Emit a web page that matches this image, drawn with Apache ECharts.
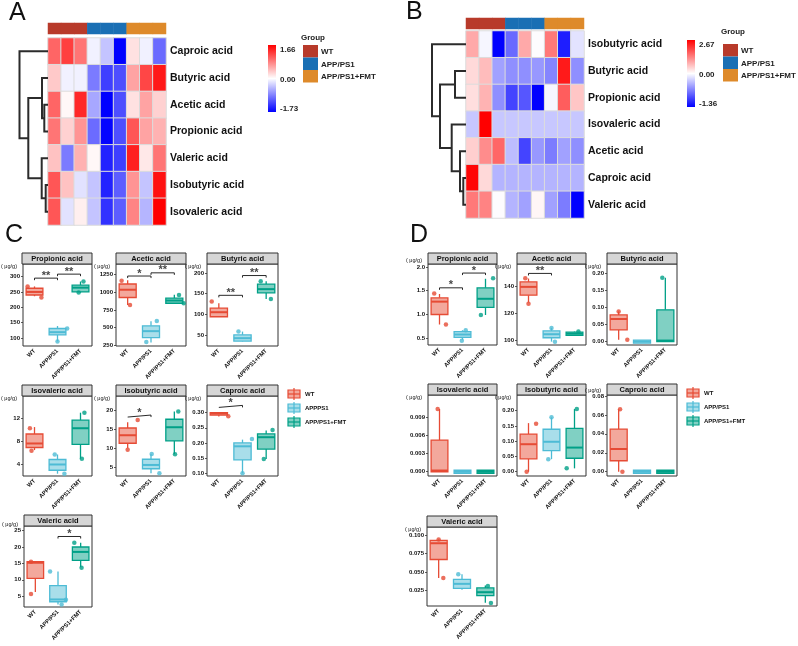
<!DOCTYPE html>
<html>
<head>
<meta charset="utf-8">
<script src="https://cdn.jsdelivr.net/npm/echarts@6/dist/echarts.min.js"></script>
<style>
html, body { margin: 0; padding: 0; background: #fff; }
#chart { width: 798px; height: 646px; }
</style>
</head>
<body>
<div id="chart"></div>
<script>
var FONT = 'Arial, "Liberation Sans", Helvetica, sans-serif';

// ---- shared ----
var samples = ['s1', 's2', 's3', 's4', 's5', 's6', 's7', 's8', 's9'];
var sampleGroup = [0, 0, 0, 1, 1, 1, 2, 2, 2];
var groupNames = ['WT', 'APP/PS1', 'APP/PS1+FMT'];
var annColors = ['#b83a2a', '#1a6fb4', '#de8a2a'];
var boxColors = ['#e64b35', '#4dbbd5', '#00a087'];
var boxFills = ['#f3a89c', '#a9deea', '#80d0c3'];

// ---- heatmap A ----
var rowsA = ['Caproic acid', 'Butyric acid', 'Acetic acid', 'Propionic acid', 'Valeric acid', 'Isobutyric acid', 'Isovaleric acid'];
var zA = [
    [1.0, 1.25, 0.9, -0.1, -0.4, -1.73, 0.2, -0.1, -1.0],
    [0.35, -0.1, -0.1, -0.9, -1.3, -1.2, 0.6, 1.2, 1.5],
    [1.0, 0.05, 1.4, -0.6, -1.73, -1.2, 0.2, 0.6, 0.3],
    [0.9, 0.3, 0.7, -1.0, -1.7, -1.2, 1.1, 0.6, 0.5],
    [0.4, -0.9, 0.5, 0.05, -1.5, -1.3, 1.45, 0.15, 0.9],
    [1.1, 0.4, -0.2, -0.4, -1.5, -1.1, 0.7, -0.4, 1.55],
    [1.1, -0.2, 0.1, -0.4, -1.4, -1.1, 0.8, -0.5, 1.66]
];
var mergesA = [[-6, -7], [-3, -4], [-2, 2], [-5, 1], [3, 4], [-1, 5]];
var heightsA = [2.3, 3.7, 6, 6.3, 19.7, 28.5];

// ---- heatmap B ----
var rowsB = ['Isobutyric acid', 'Butyric acid', 'Propionic acid', 'Isovaleric acid', 'Acetic acid', 'Caproic acid', 'Valeric acid'];
var zB = [
    [0.9, -0.05, -1.36, -0.8, 0.9, 0.0, 1.4, -1.2, -0.15],
    [0.4, 0.7, -0.5, -0.6, -0.6, -0.55, -0.65, 2.4, -0.6],
    [0.35, 0.8, -0.6, -1.0, -0.9, -1.36, -0.05, 1.7, 0.6],
    [-0.3, 2.67, -0.3, -0.3, -0.3, -0.3, -0.3, -0.3, -0.3],
    [0.5, 1.2, 1.6, -0.35, -1.0, -0.55, -0.7, -0.5, -0.6],
    [2.6, 0.4, -0.4, -0.4, -0.4, -0.4, -0.4, -0.4, -0.4],
    [1.4, 1.3, 0.0, -0.4, -0.5, 0.1, -0.5, -0.7, -1.36]
];
var mergesB = [[-6, -7], [-5, 1], [-2, -3], [-4, 2], [3, 4], [-1, 5]];
var heightsB = [2.7, 6, 11, 14.3, 26, 34];

// ---- box plots ----
var facetNames = ['Propionic acid', 'Acetic acid', 'Butyric acid', 'Isovaleric acid', 'Isobutyric acid', 'Caproic acid', 'Valeric acid'];

// [min, Q1, median, Q3, max] per group
var boxesC = [
    [[236, 240, 250, 262, 268], [89, 110, 119, 131, 139], [248, 250, 264, 272, 284]],
    [[819, 926, 1036, 1117, 1170], [288, 359, 450, 526, 590], [836, 845, 883, 917, 964]],
    [[94, 94, 105, 115, 127], [34, 35, 42, 50, 58], [137, 152, 161, 173, 180]],
    [[6.5, 6.95, 7.65, 9.3, 10.5], [2.4, 3.0, 4.0, 4.87, 5.74], [5.0, 7.5, 10.3, 11.7, 13.0]],
    [[10, 11.3, 13.4, 15.3, 16.8], [3.4, 4.6, 5.6, 7.1, 8.5], [8.4, 11.9, 15.5, 17.6, 19.6]],
    [[0.287, 0.292, 0.297, 0.300, 0.301], [0.10, 0.144, 0.189, 0.20, 0.211], [0.147, 0.180, 0.219, 0.230, 0.241]],
    [[6.3, 10.4, 15.2, 15.5, 15.5], [2.5, 3.3, 4.0, 8.2, 12.5], [13.8, 15.9, 18.5, 20, 21.3]]
];
// [group, jitter, value]
var pointsC = [
    [[0, -0.3, 268], [0, 0.3, 232], [1, 0, 89], [1, 0.42, 131], [2, 0.13, 284], [2, -0.08, 248]],
    [[0, -0.26, 1164], [0, 0.1, 819], [1, -0.2, 295], [1, 0.25, 593], [2, 0.2, 960], [2, 0.4, 845]],
    [[0, -0.3, 131], [1, -0.17, 58], [2, -0.23, 180], [2, 0.2, 137]],
    [[0, -0.2, 10.3], [0, -0.13, 6.4], [1, -0.12, 5.74], [1, 0.3, 2.4], [2, 0.17, 13.0], [2, 0.06, 5.0]],
    [[0, 0, 9.6], [0, 0.43, 17.4], [1, 0.03, 8.5], [1, 0.36, 3.4], [2, 0.17, 19.6], [2, 0.03, 8.4]],
    [[0, 0.4, 0.288], [1, 0, 0.10], [1, 0.4, 0.213], [2, 0.27, 0.243], [2, -0.1, 0.147]],
    [[0, -0.19, 15.5], [0, -0.19, 5.7], [1, -0.35, 12.5], [1, 0.16, 2.5], [1, 0.35, 3.9], [2, -0.28, 21.3], [2, 0.04, 13.7]]
];
// [from, to, y, label]
var sigC = [
    [[0, 1, 295, '**'], [1, 2, 308, '**']],
    [[0, 1, 1230, '*'], [1, 2, 1275, '**']],
    [[0, 1, 146, '**'], [1, 2, 194, '**']],
    [],
    [[0, 1, 18.7, '*']],
    [[0, 1, 0.324, '*']],
    [[1, 2, 23.2, '*']]
];
var yRangeC = [[74, 341], [240, 1400], [23, 222], [2, 15.9], [2.7, 23.7], [0.091, 0.355], [1.7, 26.4]];
var yTicksC = [[100, 150, 200, 250, 300], [250, 500, 750, 1000, 1250], [50, 100, 150, 200], [4, 8, 12],
    [5, 10, 15, 20], [0.10, 0.15, 0.20, 0.25, 0.30], [5, 10, 15, 20, 25]];
var decC = [0, 0, 0, 0, 0, 2, 0];

var boxesD = [
    [[0.79, 1.0, 1.27, 1.35, 1.43], [0.47, 0.52, 0.58, 0.64, 0.67], [0.99, 1.15, 1.33, 1.56, 1.75]],
    [[127.9, 133.3, 139.5, 143.2, 145.7], [98.8, 101.7, 104.3, 106.8, 109], [103, 103.5, 104.7, 105.8, 106.3]],
    [[0.005, 0.034, 0.066, 0.078, 0.088], [0, 0, 0, 0, 0], [0, 0, 0.003, 0.093, 0.187]],
    [[0, 0, 0.0002, 0.0052, 0.0103], [0, 0, 0, 0, 0], [0, 0, 0, 0, 0]],
    [[0, 0.042, 0.09, 0.123, 0.159], [0.041, 0.069, 0.098, 0.139, 0.178], [0.011, 0.044, 0.079, 0.142, 0.205]],
    [[0, 0.0116, 0.024, 0.045, 0.066], [0, 0, 0, 0, 0], [0, 0, 0, 0, 0]],
    [[0.042, 0.067, 0.089, 0.093, 0.094], [0.026, 0.028, 0.034, 0.040, 0.047], [0.0085, 0.018, 0.0227, 0.0285, 0.0318]]
];
var pointsD = [
    [[0, -0.23, 1.44], [0, 0.28, 0.79], [1, 0.14, 0.67], [1, -0.03, 0.45], [2, 0.33, 1.76], [2, -0.2, 0.99]],
    [[0, -0.14, 146], [0, 0, 127], [1, 0, 109], [1, 0.15, 98.8], [2, 0.17, 106.3]],
    [[0, 0, 0.088], [0, 0.37, 0.005], [2, -0.13, 0.187]],
    [[0, -0.08, 0.0103]],
    [[0, -0.08, 0], [0, 0.33, 0.157], [1, 0, 0.178], [1, -0.14, 0.041], [2, 0.1, 0.205], [2, -0.34, 0.011]],
    [[0, 0.06, 0.066], [0, 0.16, 0]],
    [[0, 0, 0.094], [0, 0.2, 0.042], [1, -0.16, 0.047], [2, 0.11, 0.031], [2, 0.24, 0.008]]
];
var sigD = [
    [[0, 1, 1.56, '*'], [1, 2, 1.87, '*']],
    [[0, 1, 149.5, '**']],
    [], [], [], [], []
];
var yRangeD = [[0.36, 2.06], [96.3, 156.5], [-0.01, 0.227], [-0.0007, 0.0126], [-0.014, 0.251], [-0.0045, 0.081], [0.004, 0.111]];
var yTicksD = [[0.5, 1.0, 1.5, 2.0], [100, 120, 140], [0, 0.05, 0.10, 0.15, 0.20], [0, 0.003, 0.006, 0.009],
    [0, 0.05, 0.10, 0.15, 0.20], [0, 0.02, 0.04, 0.06, 0.08], [0.025, 0.050, 0.075, 0.100]];
var decD = [1, 0, 2, 3, 2, 2, 3];

// facet frames: [left, stripTop, width, plotHeight]
var frameC = [[22, 253, 70, 82], [116, 253, 70, 82], [207, 253, 71, 82],
    [22, 385, 70, 80], [116, 385, 70, 80], [207, 385, 71, 80], [24, 515, 68, 81]];
var frameD = [[428, 253, 69, 81], [517, 253, 69, 81], [607, 253, 70, 81],
    [428, 384, 69, 81], [517, 384, 69, 81], [607, 384, 70, 81], [427, 516, 70, 79]];

var chart = echarts.init(document.getElementById('chart'));
var option = {
    animation: false,
    backgroundColor: '#fff',
    textStyle: { fontFamily: FONT },
    grid: [], xAxis: [], yAxis: [], series: [], visualMap: [], graphic: []
};
var G = option.graphic;

function ramp(lo, hi) {
    var out = [];
    for (var i = 0; i <= 60; i++) {
        var v = lo + (hi - lo) * i / 60, t, c;
        if (v < 0) {
            t = v / lo;
            c = [255 * (1 - t), 255 * (1 - t), 255];
        } else {
            t = v / hi;
            c = [255, 255 * (1 - t), 255 * (1 - t)];
        }
        out.push('rgb(' + c.map(Math.round).join(',') + ')');
    }
    return out;
}

function addGrid(g) { option.grid.push(g); return option.grid.length - 1; }
function addX(a) { option.xAxis.push(a); return option.xAxis.length - 1; }
function addY(a) { option.yAxis.push(a); return option.yAxis.length - 1; }
function addS(s) { option.series.push(s); return option.series.length - 1; }

function dendroLines(merges, heights) {
    var pos = [], lines = [];
    function node(id) { return id < 0 ? { x: 0, y: -id - 1 } : pos[id - 1]; }
    merges.forEach(function (m, i) {
        var a = node(m[0]), b = node(m[1]), h = heights[i];
        lines.push({ coords: [[a.x, a.y], [h, a.y], [h, b.y], [b.x, b.y]] });
        pos.push({ x: h, y: (a.y + b.y) / 2 });
    });
    return lines;
}

function heatPanel(rows, z, merges, heights, L) {
    // main heatmap
    var g = addGrid({ left: L.x, top: L.y, width: L.w, height: L.h });
    var xi = addX({ gridIndex: g, type: 'category', data: samples, show: false });
    var yi = addY({
        gridIndex: g, type: 'category', data: rows, inverse: true, position: 'right',
        axisLine: { show: false }, axisTick: { show: false },
        axisLabel: { margin: 4, fontSize: 10.5, fontWeight: 'bold', color: '#111', fontFamily: FONT }
    });
    var cells = [], lo = Infinity, hi = -Infinity;
    z.forEach(function (row, r) {
        row.forEach(function (v, c) {
            cells.push([c, r, v]);
            lo = Math.min(lo, v);
            hi = Math.max(hi, v);
        });
    });
    var si = addS({
        type: 'heatmap', xAxisIndex: xi, yAxisIndex: yi, data: cells,
        itemStyle: { borderColor: '#dcdcdc', borderWidth: 1 }
    });
    option.visualMap.push({
        type: 'continuous', show: false, seriesIndex: si, dimension: 2,
        min: lo, max: hi, inRange: { color: ramp(lo, hi) }
    });

    // group annotation bar
    var ga = addGrid({ left: L.x, top: L.annY, width: L.w, height: 11 });
    var xa = addX({ gridIndex: ga, type: 'category', data: samples, show: false });
    var ya = addY({ gridIndex: ga, type: 'category', data: ['Group'], show: false });
    var sa = addS({
        type: 'heatmap', xAxisIndex: xa, yAxisIndex: ya,
        data: sampleGroup.map(function (gr, c) { return [c, 0, gr]; })
    });
    option.visualMap.push({
        type: 'piecewise', show: false, seriesIndex: sa, dimension: 2,
        pieces: annColors.map(function (col, i) { return { value: i, color: col }; })
    });

    // row dendrogram
    var gd = addGrid({ left: L.dx, top: L.y, width: L.dw, height: L.h });
    var xd = addX({ gridIndex: gd, type: 'value', min: 0, max: L.dw, inverse: true, show: false });
    var yd = addY({ gridIndex: gd, type: 'value', min: -0.5, max: rows.length - 0.5, inverse: true, show: false });
    addS({
        type: 'lines', coordinateSystem: 'cartesian2d', xAxisIndex: xd, yAxisIndex: yd,
        polyline: true, silent: true, data: dendroLines(merges, heights),
        lineStyle: { color: '#2b2b2b', width: 2, opacity: 1 }
    });

    // colour key
    G.push({
        type: 'rect', shape: { x: L.kx, y: L.ky, width: 8, height: L.kh },
        style: {
            fill: new echarts.graphic.LinearGradient(0, 0, 0, 1, [
                { offset: 0, color: '#ff0000' }, { offset: 0.5, color: '#ffffff' }, { offset: 1, color: '#0000ff' }
            ])
        }
    });
    [hi.toFixed(2), '0.00', lo.toFixed(2)].forEach(function (t, i) {
        G.push({
            type: 'text', x: L.kx + 12, y: L.ky + 5 + i * (L.kh - 8) / 2,
            style: { text: t, fontSize: 8, fontWeight: 'bold', fill: '#222', fontFamily: FONT, verticalAlign: 'middle' }
        });
    });

    // group legend
    G.push({
        type: 'text', x: L.gx - 2, y: L.gy,
        style: { text: 'Group', fontSize: 8, fontWeight: 'bold', fill: '#222', fontFamily: FONT, verticalAlign: 'middle' }
    });
    groupNames.forEach(function (n, i) {
        G.push({
            type: 'rect', shape: { x: L.gx, y: L.gb + i * 12.5, width: 15, height: 12.5 },
            style: { fill: annColors[i] }
        });
        G.push({
            type: 'text', x: L.gx + 18, y: L.gb + i * 12.5 + 7,
            style: { text: n, fontSize: 8, fontWeight: 'bold', fill: '#222', fontFamily: FONT, verticalAlign: 'middle' }
        });
    });
}

// ggplot-style box: no whisker caps, thick median
function renderBox(params, api) {
    var gi = api.value(0);
    var c = api.coord([gi, api.value(3)]);
    var pMin = api.coord([gi, api.value(1)])[1];
    var pQ1 = api.coord([gi, api.value(2)])[1];
    var pQ3 = api.coord([gi, api.value(4)])[1];
    var pMax = api.coord([gi, api.value(5)])[1];
    var bw = api.size([1, 0])[0] * 0.73;
    var col = boxColors[gi];
    var flat = pQ1 - pQ3 < 1;
    return {
        type: 'group',
        children: [
            { type: 'line', shape: { x1: c[0], y1: pMin, x2: c[0], y2: pQ1 }, style: { stroke: col, lineWidth: 1.3 } },
            { type: 'line', shape: { x1: c[0], y1: pQ3, x2: c[0], y2: pMax }, style: { stroke: col, lineWidth: 1.3 } },
            {
                type: 'rect', shape: { x: c[0] - bw / 2, y: flat ? pQ3 - 1.5 : pQ3, width: bw, height: flat ? 3 : pQ1 - pQ3 },
                style: { fill: boxFills[gi], stroke: col, lineWidth: 1.3 }
            },
            { type: 'line', shape: { x1: c[0] - bw / 2, y1: c[1], x2: c[0] + bw / 2, y2: c[1] }, style: { stroke: col, lineWidth: 2 } }
        ]
    };
}

function facet(name, boxes, pts, sigs, yr, ticks, dec, F) {
    var x = F[0], top = F[1], w = F[2], h = F[3];
    var g = addGrid({
        left: x, top: top + 11, width: w, height: h,
        show: true, borderColor: '#333', borderWidth: 1, backgroundColor: '#fff'
    });
    var xc = addX({
        gridIndex: g, type: 'category', data: groupNames,
        axisLine: { show: false, onZero: false }, axisTick: { show: false },
        axisLabel: { rotate: 45, interval: 0, margin: 4, fontSize: 5.8, fontWeight: 'bold', color: '#111', fontFamily: FONT }
    });
    var xv = addX({ gridIndex: g, type: 'value', min: -0.5, max: 2.5, show: false, axisLine: { onZero: false } });
    var yi = addY({
        gridIndex: g, type: 'value', min: yr[0], max: yr[1],
        axisLine: { show: false, onZero: false }, splitLine: { show: false },
        axisTick: { show: true, length: 2, customValues: ticks, lineStyle: { color: '#333', width: 0.8 } },
        axisLabel: {
            customValues: ticks, margin: 3, fontSize: 6, fontWeight: 'bold', color: '#111', fontFamily: FONT,
            formatter: function (v) { return Number(v).toFixed(dec); }
        },
        name: '( \u03bcg/g)', nameLocation: 'end', nameGap: 1,
        nameTextStyle: { fontSize: 5.5, color: '#111', align: 'right', verticalAlign: 'top', padding: [0, 6, 0, 0], fontFamily: FONT }
    });
    addS({
        type: 'custom', xAxisIndex: xc, yAxisIndex: yi, silent: true, renderItem: renderBox,
        encode: { x: 0, y: [1, 2, 3, 4, 5] },
        data: boxes.map(function (b, i) { return [i].concat(b); })
    });
    addS({
        type: 'scatter', xAxisIndex: xv, yAxisIndex: yi, symbolSize: 4.5, silent: true,
        data: pts.map(function (p) {
            return { value: [p[0] + p[1], p[2]], itemStyle: { color: boxColors[p[0]] } };
        })
    });
    sigs.forEach(function (s) {
        var t = (yr[1] - yr[0]) * 0.025;
        addS({
            type: 'line', xAxisIndex: xv, yAxisIndex: yi, symbol: 'none', silent: true,
            data: [[s[0], s[2] - t], [s[0], s[2]], [s[1], s[2]], [s[1], s[2] - t]],
            lineStyle: { color: '#111', width: 0.9 }
        });
        addS({
            type: 'scatter', xAxisIndex: xv, yAxisIndex: yi, symbolSize: 0, silent: true,
            itemStyle: { color: 'rgba(0,0,0,0)' },
            data: [[(s[0] + s[1]) / 2, s[2]]],
            label: {
                show: true, position: 'top', distance: -3, formatter: s[3],
                fontSize: 11, fontWeight: 'bold', color: '#111', fontFamily: FONT
            }
        });
    });
    // facet strip
    G.push({
        type: 'rect', shape: { x: x, y: top, width: w, height: 11 },
        style: { fill: '#d6d6d6', stroke: '#333', lineWidth: 1 }
    });
    G.push({
        type: 'text', x: x + w / 2, y: top + 5.8,
        style: { text: name, fontSize: 7.5, fontWeight: 'bold', fill: '#111', fontFamily: FONT, align: 'center', verticalAlign: 'middle' }
    });
}

function boxLegend(lx, ly, labels) {
    labels.forEach(function (n, i) {
        var cy = ly + i * 14;
        G.push({
            type: 'rect', shape: { x: lx, y: cy - 4, width: 12, height: 8 },
            style: { fill: boxFills[i], stroke: boxColors[i], lineWidth: 1.2 }
        });
        G.push({ type: 'line', shape: { x1: lx, y1: cy, x2: lx + 12, y2: cy }, style: { stroke: boxColors[i], lineWidth: 1.2 } });
        G.push({ type: 'line', shape: { x1: lx + 6, y1: cy - 6, x2: lx + 6, y2: cy + 6 }, style: { stroke: boxColors[i], lineWidth: 1.2 } });
        G.push({
            type: 'text', x: lx + 17, y: cy,
            style: { text: n, fontSize: 6, fontWeight: 'bold', fill: '#111', fontFamily: FONT, verticalAlign: 'middle' }
        });
    });
}

heatPanel(rowsA, zA, mergesA, heightsA, {
    x: 48, y: 38, w: 118, h: 187, annY: 23, dx: 18, dw: 30,
    kx: 268, ky: 45, kh: 67, gx: 303, gy: 38, gb: 45
});
heatPanel(rowsB, zB, mergesB, heightsB, {
    x: 466, y: 31, w: 118, h: 187, annY: 18, dx: 431, dw: 35,
    kx: 687, ky: 40, kh: 67, gx: 723, gy: 32, gb: 44
});

facetNames.forEach(function (n, i) {
    facet(n, boxesC[i], pointsC[i], sigC[i], yRangeC[i], yTicksC[i], decC[i], frameC[i]);
    facet(n, boxesD[i], pointsD[i], sigD[i], yRangeD[i], yTicksD[i], decD[i], frameD[i]);
});

boxLegend(288, 394, ['WT', 'APPPS1', 'APP/PS1+FMT']);
boxLegend(687, 393, groupNames);

[['A', 9, 1], ['B', 406, 0], ['C', 5, 223], ['D', 410, 223]].forEach(function (p) {
    G.push({
        type: 'text', x: p[1], y: p[2],
        style: { text: p[0], fontSize: 25, fill: '#111', fontFamily: FONT, verticalAlign: 'top' }
    });
});

chart.setOption(option);
</script>
</body>
</html>
